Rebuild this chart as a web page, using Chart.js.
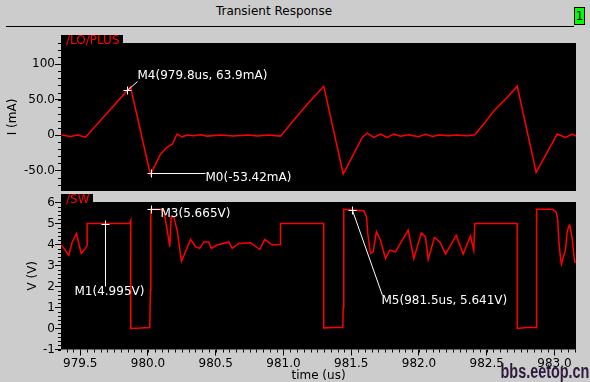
<!DOCTYPE html>
<html>
<head>
<meta charset="utf-8">
<script src="https://cdn.jsdelivr.net/npm/chart.js@4"></script>
<style>
html, body { margin: 0; padding: 0; }
body { width: 590px; height: 382px; background: #cccccc; position: relative; overflow: hidden; font-family: "DejaVu Sans", sans-serif; }
canvas { position: absolute; left: 0; top: 0; }
#title { position: absolute; left: 0; top: 4px; width: 548px; text-align: center; font-size: 12px; color: #000; }
#rule { position: absolute; left: 6px; top: 26px; width: 568px; height: 1px; background: #000; }
#num { position: absolute; left: 574px; top: 7px; width: 9px; height: 16px; background: #00ff00; border: 1px solid #000; font-size: 12px; line-height: 16px; text-align: center; color: #000; }
#mark { position: absolute; right: 1px; bottom: -1px; font: bold 20px "Liberation Sans", sans-serif; color: #2e1a3c; transform: scaleX(0.72); transform-origin: right bottom; white-space: nowrap; }
</style>
</head>
<body>
<div id="title">Transient Response</div>
<div id="rule"></div>
<div id="num">1</div>
<canvas id="topChart" width="590" height="382"></canvas>
<canvas id="botChart" width="590" height="382"></canvas>
<div id="mark">bbs.eetop.cn</div>
<script>
// time axis (us)
const timeMin = 979.358;
const timeMax = 983.159;
const timeTicks = [979.5, 980.0, 980.5, 981.0, 981.5, 982.0, 982.5, 983.0];

// /LO/PLUS current (mA)
const curTime = [979.362, 979.428, 979.480, 979.539, 979.871, 980.018, 980.092, 980.142, 980.179, 980.215,
  980.252, 980.289, 980.336, 980.387, 980.439, 980.535, 980.631, 980.734, 980.808, 980.882,
  980.978, 981.052, 981.175, 981.297, 981.441, 981.581, 981.618, 981.667, 981.716, 981.765,
  981.814, 981.863, 981.923, 981.996, 982.048, 982.100, 982.144, 982.218, 982.280, 982.358,
  982.412, 982.478, 982.552, 982.651, 982.725, 982.865, 983.020, 983.081, 983.131, 983.162];
const curValues = [0, -2, 0, -3, 68, -56, -27, -17, -13, 1.5,
  -2.5, 0, -1, 0.5, -1.5, 0, -1.5, 0, -1.5, 0,
  -1.5, 15.5, 43.6, 69, -55, -3.4, 2.8, -3.4, 1.4, -3.4,
  1.4, -1.5, 0.5, -2.5, 1, -2, 0, -1, 0, -1,
  0.5, 15.5, 34, 53, 69, -52.6, 1.4, -3.4, 1.4, -1.5];
const curTicks = [-50, 0, 50, 100];
const curTickLabels = ['-50.0', '0', '50.0', '100'];
const curMin = -79;
const curMax = 130;

// /SW voltage (V)
const swTime = [979.362, 979.415, 979.441, 979.472, 979.507, 979.539, 979.551, 979.551, 979.866, 979.873,
  979.873, 979.945, 980.013, 980.018, 980.021, 980.092, 980.117, 980.142, 980.161, 980.171,
  980.190, 980.215, 980.247, 980.277, 980.314, 980.351, 980.382, 980.412, 980.449, 980.466,
  980.511, 980.596, 980.621, 980.670, 980.756, 980.825, 980.862, 980.917, 980.978, 980.978,
  981.297, 981.297, 981.369, 981.438, 981.441, 981.445, 981.593, 981.613, 981.622, 981.642,
  981.662, 981.686, 981.716, 981.753, 981.785, 981.827, 981.920, 981.962, 982.018, 982.048,
  982.068, 982.114, 982.154, 982.196, 982.275, 982.326, 982.380, 982.404, 982.412, 982.725,
  982.725, 982.793, 982.865, 982.867, 982.869, 982.983, 983.002, 983.015, 983.024, 983.032,
  983.044, 983.052, 983.069, 983.081, 983.094, 983.105, 983.113, 983.131, 983.142, 983.150, 983.162];
const swValues = [3.97, 3.49, 4.12, 4.52, 3.57, 3.81, 3.97, 5.0, 5.0, 5.13,
  0, 0.02, 0.05, 1.82, 5.67, 5.67, 5.6, 4.68, 3.89, 5.31,
  5.31, 4.68, 3.2, 3.65, 4.24, 3.89, 3.81, 4.12, 4.12, 3.81,
  3.97, 4.12, 3.81, 4.05, 4.08, 3.76, 4.24, 3.97, 4.0, 5.0,
  5.0, 0.03, 0.05, 0.05, 1.0, 5.67, 5.6, 5.31, 4.52, 3.57,
  3.65, 4.6, 4.2, 3.33, 3.73, 3.65, 4.68, 3.33, 4.55, 4.36,
  3.29, 4.33, 4.12, 3.54, 4.44, 3.54, 4.4, 3.73, 5.0, 5.0,
  0, 0.05, 0.05, 1.9, 5.67, 5.67, 5.6, 5.5, 5.16, 4.2,
  3.4, 3.06, 3.49, 3.73, 4.6, 4.84, 4.92, 4.29, 3.57, 3.17, 3.17];
const swTicks = [-1, 0, 1, 2, 3, 4, 5, 6];
const swMin = -1;
const swMax = 6.02;

// markers
const curMarkTime = [979.845, 980.02];
const curMarkValue = [63.9, -53.42];
const curMarkText = ['M4(979.8us, 63.9mA)', 'M0(-53.42mA)'];
const swMarkTime = [979.681, 980.024, 981.507];
const swMarkValue = [4.995, 5.665, 5.641];
const swMarkText = ['M1(4.995V)', 'M3(5.665V)', 'M5(981.5us, 5.641V)'];

Chart.defaults.font.family = '"DejaVu Sans", sans-serif';
Chart.defaults.font.size = 12;
Chart.defaults.color = '#000';

const toPoints = (xs, ys) => xs.map((x, i) => ({ x: x, y: ys[i] }));

// black plot area, label tab, minor ticks, markers
const panelPlugin = {
  id: 'panel',
  beforeDraw(chart, args, o) {
    const { ctx, chartArea: a } = chart;
    ctx.save();
    ctx.fillStyle = '#000';
    ctx.fillRect(a.left, a.top, a.right - a.left, a.bottom - a.top);
    ctx.fillRect(a.left, a.top - 8, o.tabWidth, 8);
    ctx.restore();
  },
  afterDraw(chart, args, o) {
    const { ctx, chartArea: a } = chart;
    const xs = chart.scales.x, ys = chart.scales.y;
    ctx.save();
    ctx.strokeStyle = '#000';
    ctx.lineWidth = 1;
    ctx.beginPath();
    for (let i = Math.ceil(ys.min / o.yMinor); i * o.yMinor <= ys.max; i++) {
      const py = Math.round(ys.getPixelForValue(i * o.yMinor)) + 0.5;
      ctx.moveTo(a.left - 3, py);
      ctx.lineTo(a.left, py);
    }
    if (o.xMinor) {
      for (let i = Math.ceil(xs.min / o.xMinor); i * o.xMinor <= xs.max; i++) {
        const px = Math.round(xs.getPixelForValue(i * o.xMinor)) + 0.5;
        ctx.moveTo(px, a.bottom);
        ctx.lineTo(px, a.bottom + 3);
      }
    }
    ctx.stroke();

    // tab label
    ctx.fillStyle = '#ff0000';
    ctx.textBaseline = 'middle';
    ctx.textAlign = 'left';
    ctx.fillText(o.tab, a.left + 5, a.top - 2.5);

    // markers
    ctx.strokeStyle = '#fff';
    ctx.fillStyle = '#fff';
    o.marks.forEach(m => {
      const px = Math.round(xs.getPixelForValue(m.t)) + 0.5;
      const py = Math.round(ys.getPixelForValue(m.v)) + 0.5;
      ctx.beginPath();
      ctx.moveTo(px - 4, py); ctx.lineTo(px + 4, py);
      ctx.moveTo(px, py - 4); ctx.lineTo(px, py + 4);
      ctx.moveTo(px, py); ctx.lineTo(px + m.lx, py + m.ly);
      ctx.stroke();
      ctx.fillText(m.text, px + m.tx, py + m.ty);
    });
    ctx.restore();
  }
};

function lineSet(xs, ys) {
  return {
    data: toPoints(xs, ys),
    borderColor: '#ff0000',
    borderWidth: 1.5,
    pointRadius: 0,
    tension: 0
  };
}

function yScale(min, max, ticks, labels, title, titlePad) {
  return {
    type: 'linear',
    min: min,
    max: max,
    afterFit: s => { s.width = 61; },
    afterBuildTicks: s => { s.ticks = ticks.map(v => ({ value: v })); },
    ticks: {
      padding: 0,
      color: '#000',
      callback: (v) => labels ? labels[ticks.indexOf(v)] : String(v)
    },
    grid: { drawOnChartArea: false, tickLength: 6, color: '#000' },
    border: { display: false },
    title: { display: true, text: title, color: '#000', padding: { top: titlePad, bottom: 0 } }
  };
}

// top panel: /LO/PLUS
new Chart(document.getElementById('topChart'), {
  type: 'line',
  data: { datasets: [lineSet(curTime, curValues)] },
  plugins: [panelPlugin],
  options: {
    responsive: false,
    animation: false,
    layout: { padding: { left: 0, top: 43, right: 14, bottom: 191 } },
    scales: {
      x: { type: 'linear', min: timeMin, max: timeMax, display: false },
      y: yScale(curMin, curMax, curTicks, curTickLabels, 'I (mA)', 6)
    },
    plugins: {
      legend: { display: false },
      tooltip: { enabled: false },
      panel: {
        tab: '/LO/PLUS',
        tabWidth: 62,
        yMinor: 10,
        marks: [
          { t: curMarkTime[0], v: curMarkValue[0], text: curMarkText[0], lx: 10, ly: -9, tx: 10, ty: -15 },
          { t: curMarkTime[1], v: curMarkValue[1], text: curMarkText[1], lx: 54, ly: 0, tx: 54, ty: 4 }
        ]
      }
    }
  }
});

// bottom panel: /SW
new Chart(document.getElementById('botChart'), {
  type: 'line',
  data: { datasets: [lineSet(swTime, swValues)] },
  plugins: [panelPlugin],
  options: {
    responsive: false,
    animation: false,
    layout: { padding: { left: 0, top: 202, right: 14, bottom: 0 } },
    scales: {
      x: {
        type: 'linear',
        min: timeMin,
        max: timeMax,
        afterFit: s => { s.height = 32.5; },
        afterBuildTicks: s => { s.ticks = timeTicks.map(v => ({ value: v })); },
        ticks: { padding: 1, color: '#000', autoSkip: false, maxRotation: 0, callback: v => v.toFixed(1) },
        grid: { drawOnChartArea: false, tickLength: 6, color: '#000' },
        border: { display: false },
        title: { display: true, text: 'time (us)', color: '#000', padding: { top: 0, bottom: -1 } }
      },
      y: yScale(swMin, swMax, swTicks, null, 'V (V)', 26)
    },
    plugins: {
      legend: { display: false },
      tooltip: { enabled: false },
      panel: {
        tab: '/SW',
        tabWidth: 32,
        yMinor: 0.2,
        xMinor: 0.05,
        marks: [
          { t: swMarkTime[0], v: swMarkValue[0], text: swMarkText[0], lx: 0, ly: 62, tx: -31, ty: 67 },
          { t: swMarkTime[1], v: swMarkValue[1], text: swMarkText[1], lx: 9, ly: 0, tx: 9, ty: 4 },
          { t: swMarkTime[2], v: swMarkValue[2], text: swMarkText[2], lx: 30, ly: 85, tx: 29, ty: 90 }
        ]
      }
    }
  }
});
</script>
</body>
</html>
